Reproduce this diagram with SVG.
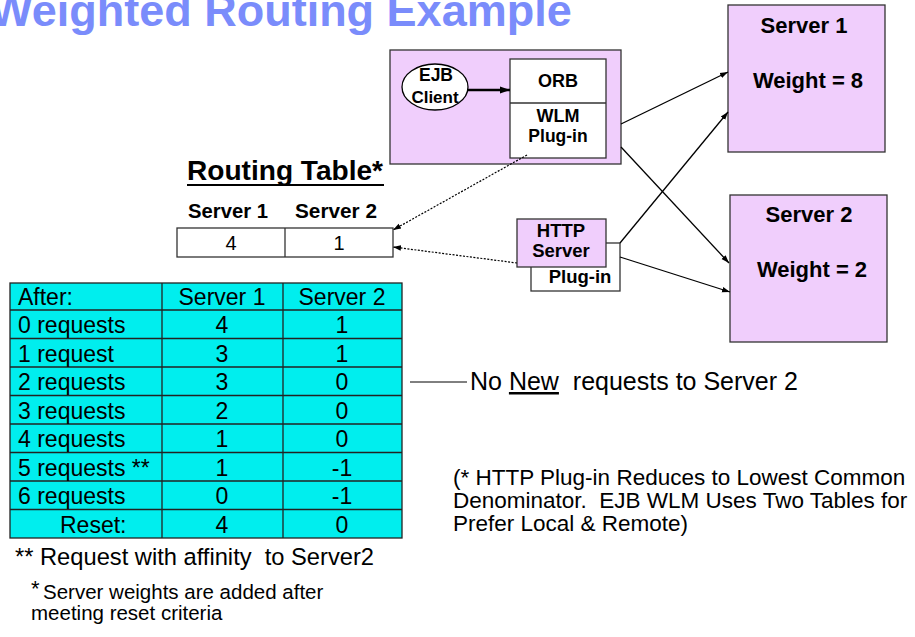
<svg xmlns="http://www.w3.org/2000/svg" width="915" height="637" viewBox="0 0 915 637">
<defs>
<style>
text{font-family:"Liberation Sans",Arial,sans-serif;fill:#000}
.b{font-weight:bold}
.purple{fill:#F0CEFC;stroke:#333;stroke-width:1.3}
.white{fill:#fff;stroke:#333;stroke-width:1.3}
.cy{fill:#00EEEE;stroke:#222;stroke-width:1.3}
.conn{stroke:#000;stroke-width:1.3;fill:none}
.dot{stroke:#000;stroke-width:1.2;fill:none;stroke-dasharray:2 1.5}
.tc{font-size:23px}
.mid{text-anchor:middle}
</style>
<marker id="ah" viewBox="0 0 10 10" refX="10" refY="5" markerWidth="8" markerHeight="8" markerUnits="userSpaceOnUse" orient="auto">
<path d="M0,1.5 L10,5 L0,8.5 z" fill="#000"/>
</marker>
<marker id="ahs" viewBox="0 0 10 10" refX="10" refY="5" markerWidth="14" markerHeight="10" markerUnits="userSpaceOnUse" orient="auto">
<path d="M0,1.5 L10,5 L0,8.5 z" fill="#000"/>
</marker>
</defs>
<rect width="915" height="637" fill="#fff"/>
<text id="title" x="-10" y="26" class="b" font-size="45" style="fill:#7A8CFB">Weighted Routing Example</text>

<g id="ejb-host">
<rect x="390" y="50" width="231" height="114" class="purple"/>
<rect x="510" y="59" width="96" height="99" class="white"/>
<line x1="510" y1="103" x2="606" y2="103" stroke="#333" stroke-width="1.3"/>
<text x="558" y="87" class="b mid" font-size="18">ORB</text>
<text x="558" y="122" class="b mid" font-size="18">WLM</text>
<text x="558" y="142" class="b mid" font-size="17.5">Plug-in</text>
</g>
<g id="ejb-client">
<ellipse cx="435" cy="87" rx="33" ry="23" fill="#fff" stroke="#000" stroke-width="1.3"/>
<text x="436" y="81" class="b mid" font-size="17.5">EJB</text>
<text x="435" y="103" class="b mid" font-size="17">Client</text>
</g>

<g id="server1">
<rect x="728" y="5" width="157" height="147" class="purple"/>
<text x="804" y="33" class="b mid" font-size="22">Server 1</text>
<text x="808" y="88" class="b mid" font-size="22">Weight = 8</text>
</g>
<g id="server2">
<rect x="730" y="195" width="157" height="147" class="purple"/>
<text x="809" y="222" class="b mid" font-size="22">Server 2</text>
<text x="812" y="277" class="b mid" font-size="22">Weight = 2</text>
</g>

<g id="http-server">
<rect x="531" y="243" width="89" height="48" class="white"/>
<rect x="517" y="219" width="89" height="48" class="purple"/>
<text x="561" y="237" class="b mid" font-size="18.5">HTTP</text>
<text x="561" y="257" class="b mid" font-size="18.5">Server</text>
<text x="580" y="283" class="b mid" font-size="18.5">Plug-in</text>
</g>

<g id="routing-table">
<text x="187" y="180" class="b" font-size="28" textLength="196" lengthAdjust="spacingAndGlyphs">Routing Table*</text>
<line x1="187" y1="185" x2="384" y2="185" stroke="#000" stroke-width="2"/>
<text x="188" y="218" class="b" font-size="20" textLength="80" lengthAdjust="spacingAndGlyphs">Server 1</text>
<text x="295" y="218" class="b" font-size="20" textLength="82" lengthAdjust="spacingAndGlyphs">Server 2</text>
<rect x="177" y="228" width="216" height="29" class="white"/>
<line x1="285" y1="228" x2="285" y2="257" stroke="#333" stroke-width="1.3"/>
<text x="231" y="250" class="mid" font-size="20">4</text>
<text x="339" y="250" class="mid" font-size="20">1</text>
</g>

<g id="after-table">
<rect x="10" y="283" width="392" height="255" class="cy"/>
<g stroke="#222" stroke-width="1.3">
<line x1="162" y1="283" x2="162" y2="538"/>
<line x1="283" y1="283" x2="283" y2="538"/>
<line x1="10" y1="310" x2="402" y2="310"/>
<line x1="10" y1="338.5" x2="402" y2="338.5"/>
<line x1="10" y1="367" x2="402" y2="367"/>
<line x1="10" y1="395.5" x2="402" y2="395.5"/>
<line x1="10" y1="424" x2="402" y2="424"/>
<line x1="10" y1="452.5" x2="402" y2="452.5"/>
<line x1="10" y1="481" x2="402" y2="481"/>
<line x1="10" y1="509.5" x2="402" y2="509.5"/>
</g>
<g class="tc">
<text x="18" y="305">After:</text><text x="222" y="305" class="mid">Server 1</text><text x="342" y="305" class="mid">Server 2</text>
<text x="18" y="333">0 requests</text><text x="222" y="333" class="mid">4</text><text x="342" y="333" class="mid">1</text>
<text x="18" y="361.5">1 request</text><text x="222" y="361.5" class="mid">3</text><text x="342" y="361.5" class="mid">1</text>
<text x="18" y="390">2 requests</text><text x="222" y="390" class="mid">3</text><text x="342" y="390" class="mid">0</text>
<text x="18" y="418.5">3 requests</text><text x="222" y="418.5" class="mid">2</text><text x="342" y="418.5" class="mid">0</text>
<text x="18" y="447">4 requests</text><text x="222" y="447" class="mid">1</text><text x="342" y="447" class="mid">0</text>
<text x="18" y="475.5">5 requests **</text><text x="222" y="475.5" class="mid">1</text><text x="342" y="475.5" class="mid">-1</text>
<text x="18" y="504">6 requests</text><text x="222" y="504" class="mid">0</text><text x="342" y="504" class="mid">-1</text>
<text x="60" y="532.5">Reset:</text><text x="222" y="532.5" class="mid">4</text><text x="342" y="532.5" class="mid">0</text>
</g>
</g>

<g id="notes">
<line x1="410" y1="382" x2="467" y2="382" stroke="#000" stroke-width="1"/>
<text x="470" y="390" font-size="25" xml:space="preserve">No <tspan text-decoration="underline">New</tspan>  requests to Server 2</text>
<text x="453" y="485" font-size="22.5">(* HTTP Plug-in Reduces to Lowest Common</text>
<text x="453" y="508" font-size="22.5" xml:space="preserve">Denominator.  EJB WLM Uses Two Tables for</text>
<text x="453" y="531" font-size="22.5">Prefer Local &amp; Remote)</text>
<text x="15" y="565" font-size="23.7" xml:space="preserve">** Request with affinity  to Server2</text>
<text x="31" y="596" font-size="22">*</text>
<text x="43" y="599" font-size="20.5">Server weights are added after</text>
<text x="31" y="620" font-size="20.5">meeting reset criteria</text>
</g>

<g id="connectors">
<line x1="468" y1="90" x2="510" y2="90" stroke="#000" stroke-width="2.5" marker-end="url(#ahs)"/>
<line x1="621" y1="124" x2="728" y2="72" class="conn" marker-end="url(#ah)"/>
<line x1="621" y1="147" x2="729" y2="263" class="conn" marker-end="url(#ah)"/>
<line x1="620" y1="243" x2="728" y2="112" class="conn" marker-end="url(#ah)"/>
<line x1="620" y1="257" x2="730" y2="292" class="conn" marker-end="url(#ah)"/>
<line x1="527" y1="155" x2="393" y2="230" class="dot" marker-end="url(#ah)"/>
<line x1="517" y1="263" x2="393" y2="247" class="dot" marker-end="url(#ah)"/>
</g>
</svg>
